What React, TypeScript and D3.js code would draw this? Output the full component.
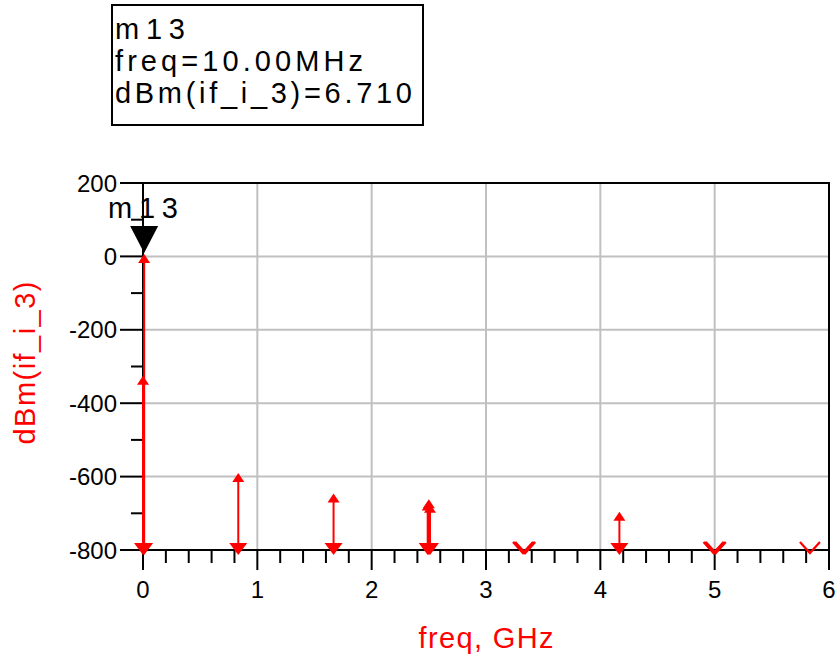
import React from "react";
import * as d3 from "d3";

// Spectral lines (GHz) and their dBm values; values below -800 are off-scale
const freqGHz = [0, 0.01, 0.8333, 1.6667, 2.49, 2.5, 2.51, 3.3233, 3.3333, 3.3433, 4.1667, 4.99, 5.0, 5.01, 5.8333];
const dBmValues = [-325, 6.71, -590, -646, -668, -662, -674, -900, -900, -900, -696, -900, -900, -900, -900];

const xTicks = [0, 1, 2, 3, 4, 5, 6];
const yTicks = [200, 0, -200, -400, -600, -800];
const markerLines = ["m13", "freq=10.00MHz", "dBm(if_i_3)=6.710"];
const markerFreq = 0.01;
const markerValue = 6.71;

const W = 837, H = 666;
const FONT = "'Liberation Sans', Arial, sans-serif";

export default function App() {
  const x = d3.scaleLinear().domain([0, 6]).range([143, 829]);
  const y = d3.scaleLinear().domain([-800, 200]).range([550, 183]);
  const [x0, x1] = x.range();
  const yb = y(-800), yt = y(200);
  const minorX = d3.range(0, 6.0001, 0.2).filter((v) => Math.abs(v - Math.round(v)) > 1e-6);
  const minorY = d3.range(-700, 200, 200);
  const red = "#ff0000";

  const spikes = freqGHz.map((f, i) => ({ f, v: dBmValues[i] }));

  return (
    <svg width={W} height={H} style={{ position: "absolute", left: 0, top: 0, background: "#fff" }} fontFamily={FONT}>
      <rect x={0} y={0} width={W} height={H} fill="#fff" />
      {/* grid */}
      {xTicks.slice(1, -1).map((t) => (
        <line key={"gx" + t} x1={x(t)} x2={x(t)} y1={yt} y2={yb} stroke="#c0c0c0" strokeWidth={2} />
      ))}
      {yTicks.slice(1, -1).map((t) => (
        <line key={"gy" + t} x1={x0} x2={x1} y1={y(t)} y2={y(t)} stroke="#c0c0c0" strokeWidth={2} />
      ))}
      {/* frame */}
      <line x1={120} x2={x1 + 1} y1={yt} y2={yt} stroke="#000" strokeWidth={2} />
      <line x1={120} x2={x1 + 1} y1={yb} y2={yb} stroke="#000" strokeWidth={2} />
      <line x1={x0} x2={x0} y1={yt} y2={570} stroke="#000" strokeWidth={2} />
      <line x1={x1} x2={x1} y1={yt} y2={570} stroke="#000" strokeWidth={2} />
      {/* y ticks */}
      {yTicks.map((t) => (
        <g key={"yt" + t}>
          <line x1={120} x2={x0} y1={y(t)} y2={y(t)} stroke="#000" strokeWidth={2} />
          <text x={117} y={y(t) + 8.5} fontSize={24} textAnchor="end" fill="#000">{t}</text>
        </g>
      ))}
      {minorY.map((t) => (
        <line key={"ym" + t} x1={131} x2={x0} y1={y(t)} y2={y(t)} stroke="#000" strokeWidth={2} />
      ))}
      {/* x ticks */}
      {xTicks.map((t) => (
        <g key={"xt" + t}>
          <line x1={x(t)} x2={x(t)} y1={yb} y2={570} stroke="#000" strokeWidth={2} />
          <text x={x(t)} y={598} fontSize={24} textAnchor="middle" fill="#000">{t}</text>
        </g>
      ))}
      {minorX.map((t) => (
        <line key={"xm" + t.toFixed(1)} x1={x(t)} x2={x(t)} y1={yb} y2={563} stroke="#000" strokeWidth={2} />
      ))}
      {/* spikes */}
      {spikes.map((s, i) => {
        const cx = x(s.f);
        if (s.v < -800) {
          return (
            <path key={"s" + i} d={`M${cx - 10},${yb - 8} L${cx},${yb + 3} L${cx + 10},${yb - 8}`}
              fill="none" stroke={red} strokeWidth={2.2} />
          );
        }
        const vy = y(s.v);
        return (
          <g key={"s" + i}>
            <line x1={cx} x2={cx} y1={yb} y2={vy + 4} stroke={red} strokeWidth={2} />
            <path d={`M${cx},${vy} L${cx - 6},${vy + 9} L${cx + 6},${vy + 9} Z`} fill={red} />
            <path d={`M${cx - 9},${yb - 7} L${cx + 9},${yb - 7} L${cx},${yb + 5} Z`} fill={red} />
          </g>
        );
      })}
      {/* marker */}
      <path d={`M${x(markerFreq) - 14},226 L${x(markerFreq) + 14},226 L${x(markerFreq)},${y(markerValue) - 1} Z`} fill="#000" />
      <text x={108} y={218} fontSize={29} fill="#000" textLength={70} lengthAdjust="spacing">{markerLines[0]}</text>
      {/* marker readout box */}
      <rect x={112} y={5} width={311} height={120} fill="#fff" stroke="#000" strokeWidth={2} />
      <text x={115} y={39} fontSize={29} fill="#000" textLength={70} lengthAdjust="spacing">{markerLines[0]}</text>
      <text x={115} y={71} fontSize={29} fill="#000" textLength={248} lengthAdjust="spacing">{markerLines[1]}</text>
      <text x={115} y={103} fontSize={29} fill="#000" textLength={297} lengthAdjust="spacing">{markerLines[2]}</text>
      {/* axis titles */}
      <text x={486} y={648} fontSize={29} fill={red} textAnchor="middle" textLength={135} lengthAdjust="spacing">freq, GHz</text>
      <text transform={`translate(35,363) rotate(-90)`} fontSize={29} fill={red} textAnchor="middle" textLength={163} lengthAdjust="spacing">dBm(if_i_3)</text>
    </svg>
  );
}
